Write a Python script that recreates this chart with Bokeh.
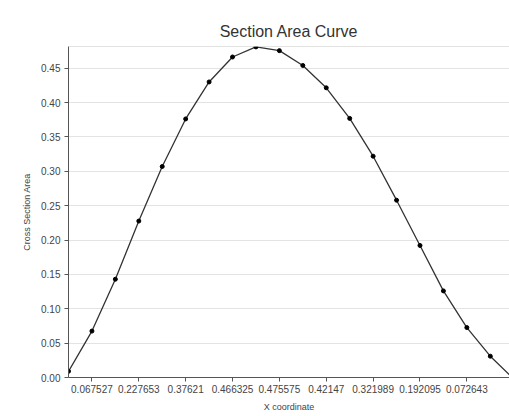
from bokeh.plotting import figure
from bokeh.models import Range1d, FixedTicker, Span, NumeralTickFormatter
from bokeh.embed import file_html
from bokeh.resources import INLINE

# data
area = [0.009, 0.067527, 0.143, 0.227653, 0.307, 0.37621, 0.430, 0.466325, 0.481,
        0.475575, 0.454, 0.42147, 0.377, 0.321989, 0.258, 0.192095, 0.126, 0.072643,
        0.031, -0.002]
idx = list(range(len(area)))
label_idx = [1, 3, 5, 7, 9, 11, 13, 15, 17]
labels = ["0.067527", "0.227653", "0.37621", "0.466325", "0.475575",
          "0.42147", "0.321989", "0.192095", "0.072643"]
y_ticks = [0.0, 0.05, 0.10, 0.15, 0.20, 0.25, 0.30, 0.35, 0.40, 0.45]

FONT = "Liberation Sans"

p = figure(width=509, height=416, output_backend="svg", toolbar_location=None,
           title="Section Area Curve",
           x_range=Range1d(0, 18.82), y_range=Range1d(0, 0.4816),
           min_border_left=68, min_border_right=0, min_border_top=46, min_border_bottom=39)

p.line(idx, area, line_color="#333333", line_width=1.3)
p.scatter(idx, area, size=4, color="black")

p.title.align = "center"
p.title.text_font = FONT
p.title.text_font_size = "16px"
p.title.text_font_style = "normal"
p.title.text_color = "#333333"
p.title.standoff = 13

p.background_fill_color = "white"
p.border_fill_color = "white"
p.outline_line_color = None
p.add_layout(Span(location=0.4816, dimension="width", line_color="#c8c8c8", line_width=1))

p.xgrid.visible = False
p.ygrid.ticker = FixedTicker(ticks=y_ticks)
p.ygrid.grid_line_color = "#e3e3e3"

p.xaxis.ticker = FixedTicker(ticks=label_idx)
p.xaxis.major_label_overrides = {i: s for i, s in zip(label_idx, labels)}
p.yaxis.ticker = FixedTicker(ticks=y_ticks)
p.yaxis.formatter = NumeralTickFormatter(format="0.00")

for ax in (p.xaxis, p.yaxis):
    ax.axis_line_color = "#555555"
    ax.major_tick_line_color = "#555555"
    ax.major_tick_out = 4
    ax.major_tick_in = 0
    ax.minor_tick_line_color = None
    ax.major_label_text_font = FONT
    ax.major_label_text_font_size = "10px"
    ax.major_label_text_color = "#444444"
    ax.axis_label_text_font = FONT
    ax.axis_label_text_font_size = "9px"
    ax.axis_label_text_font_style = "normal"
    ax.axis_label_text_color = "#444444"

p.xaxis.axis_label = "X coordinate"
p.yaxis.axis_label = "Cross Section Area"
p.xaxis.major_label_standoff = 3
p.xaxis.axis_label_standoff = 6
p.yaxis.major_label_standoff = 4
p.yaxis.axis_label_standoff = 6

open("out.html", "w").write(file_html(p, INLINE))
